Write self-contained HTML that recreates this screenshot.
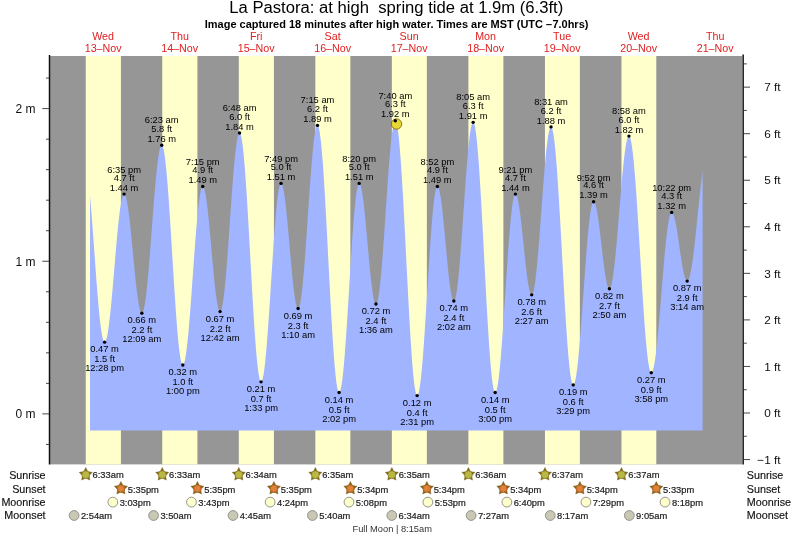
<!DOCTYPE html>
<html><head><meta charset="utf-8"><title>La Pastora tide chart</title>
<style>html,body{margin:0;padding:0;background:#fff}svg{display:block}text{font-family:"Liberation Sans",Arial,Helvetica,sans-serif}</style></head><body>
<svg width="793" height="537" viewBox="0 0 793 537">
<rect width="793" height="537" fill="#fff"/>
<text x="396.3" y="13.1" font-size="15.6" text-anchor="middle" fill="#000" xml:space="preserve" textLength="334" lengthAdjust="spacingAndGlyphs">La Pastora: at high  spring tide at 1.9m (6.3ft)</text>
<text x="396.6" y="27.6" font-size="10.2" font-weight="bold" text-anchor="middle" fill="#000" textLength="383.6" lengthAdjust="spacingAndGlyphs">Image captured 18 minutes after high water. Times are MST (UTC −7.0hrs)</text>
<rect x="50" y="56" width="692" height="408.4" fill="#969696"/>
<rect x="85.75" y="56" width="35.17" height="408.4" fill="#ffffcc"/>
<rect x="162.25" y="56" width="35.17" height="408.4" fill="#ffffcc"/>
<rect x="238.80" y="56" width="35.12" height="408.4" fill="#ffffcc"/>
<rect x="315.35" y="56" width="35.01" height="408.4" fill="#ffffcc"/>
<rect x="391.85" y="56" width="35.01" height="408.4" fill="#ffffcc"/>
<rect x="468.41" y="56" width="34.96" height="408.4" fill="#ffffcc"/>
<rect x="544.96" y="56" width="34.90" height="408.4" fill="#ffffcc"/>
<rect x="621.46" y="56" width="34.85" height="408.4" fill="#ffffcc"/>
<path d="M90.00 430.50 L90.00 195.96 L90.50 201.60 L91.00 207.53 L91.50 213.72 L92.00 220.12 L92.50 226.70 L93.00 233.43 L93.50 240.26 L94.00 247.16 L94.50 254.08 L95.00 260.98 L95.50 267.83 L96.00 274.58 L96.50 281.20 L97.00 287.64 L97.50 293.87 L98.00 299.86 L98.50 305.56 L99.00 310.95 L99.50 316.00 L100.00 320.66 L100.50 324.93 L101.00 328.77 L101.50 332.16 L102.00 335.08 L102.50 337.51 L103.00 339.44 L103.50 340.86 L104.00 341.77 L104.50 342.14 L105.00 342.01 L105.50 341.39 L106.00 340.30 L106.50 338.74 L107.00 336.72 L107.50 334.26 L108.00 331.37 L108.50 328.06 L109.00 324.37 L109.50 320.32 L110.00 315.92 L110.50 311.22 L111.00 306.23 L111.50 301.00 L112.00 295.55 L112.50 289.93 L113.00 284.17 L113.50 278.30 L114.00 272.36 L114.50 266.40 L115.00 260.45 L115.50 254.55 L116.00 248.73 L116.50 243.05 L117.00 237.52 L117.50 232.20 L118.00 227.10 L118.50 222.28 L119.00 217.75 L119.50 213.54 L120.00 209.69 L120.50 206.22 L121.00 203.15 L121.50 200.51 L122.00 198.30 L122.50 196.54 L123.00 195.25 L123.50 194.43 L124.00 194.09 L124.50 194.23 L125.00 194.83 L125.50 195.89 L126.00 197.41 L126.50 199.36 L127.00 201.74 L127.50 204.52 L128.00 207.69 L128.50 211.22 L129.00 215.08 L129.50 219.25 L130.00 223.68 L130.50 228.34 L131.00 233.21 L131.50 238.23 L132.00 243.38 L132.50 248.60 L133.00 253.87 L133.50 259.13 L134.00 264.35 L134.50 269.48 L135.00 274.50 L135.50 279.34 L136.00 283.99 L136.50 288.40 L137.00 292.53 L137.50 296.36 L138.00 299.86 L138.50 302.99 L139.00 305.74 L139.50 308.08 L140.00 309.99 L140.50 311.46 L141.00 312.48 L141.50 313.04 L142.00 313.13 L142.50 312.71 L143.00 311.76 L143.50 310.30 L144.00 308.34 L144.50 305.88 L145.00 302.94 L145.50 299.54 L146.00 295.70 L146.50 291.45 L147.00 286.80 L147.50 281.80 L148.00 276.47 L148.50 270.84 L149.00 264.95 L149.50 258.84 L150.00 252.54 L150.50 246.10 L151.00 239.55 L151.50 232.94 L152.00 226.31 L152.50 219.69 L153.00 213.13 L153.50 206.67 L154.00 200.36 L154.50 194.22 L155.00 188.30 L155.50 182.64 L156.00 177.26 L156.50 172.22 L157.00 167.52 L157.50 163.22 L158.00 159.32 L158.50 155.86 L159.00 152.86 L159.50 150.34 L160.00 148.31 L160.50 146.79 L161.00 145.77 L161.50 145.29 L162.00 145.33 L162.50 145.98 L163.00 147.24 L163.50 149.09 L164.00 151.53 L164.50 154.55 L165.00 158.12 L165.50 162.23 L166.00 166.86 L166.50 171.97 L167.00 177.55 L167.50 183.56 L168.00 189.96 L168.50 196.72 L169.00 203.81 L169.50 211.19 L170.00 218.81 L170.50 226.62 L171.00 234.60 L171.50 242.69 L172.00 250.85 L172.50 259.04 L173.00 267.20 L173.50 275.29 L174.00 283.28 L174.50 291.11 L175.00 298.73 L175.50 306.12 L176.00 313.22 L176.50 320.01 L177.00 326.43 L177.50 332.46 L178.00 338.05 L178.50 343.19 L179.00 347.84 L179.50 351.98 L180.00 355.58 L180.50 358.62 L181.00 361.09 L181.50 362.97 L182.00 364.26 L182.50 364.94 L183.00 365.01 L183.50 364.52 L184.00 363.48 L184.50 361.89 L185.00 359.77 L185.50 357.12 L186.00 353.97 L186.50 350.34 L187.00 346.24 L187.50 341.70 L188.00 336.75 L188.50 331.42 L189.00 325.75 L189.50 319.77 L190.00 313.51 L190.50 307.02 L191.00 300.33 L191.50 293.50 L192.00 286.55 L192.50 279.53 L193.00 272.49 L193.50 265.47 L194.00 258.52 L194.50 251.67 L195.00 244.97 L195.50 238.46 L196.00 232.19 L196.50 226.18 L197.00 220.49 L197.50 215.13 L198.00 210.16 L198.50 205.59 L199.00 201.45 L199.50 197.78 L200.00 194.60 L200.50 191.91 L201.00 189.75 L201.50 188.12 L202.00 187.04 L202.50 186.51 L203.00 186.53 L203.50 187.06 L204.00 188.10 L204.50 189.63 L205.00 191.65 L205.50 194.14 L206.00 197.08 L206.50 200.45 L207.00 204.21 L207.50 208.33 L208.00 212.79 L208.50 217.55 L209.00 222.56 L209.50 227.79 L210.00 233.19 L210.50 238.73 L211.00 244.34 L211.50 250.00 L212.00 255.64 L212.50 261.24 L213.00 266.73 L213.50 272.08 L214.00 277.24 L214.50 282.17 L215.00 286.83 L215.50 291.18 L216.00 295.18 L216.50 298.81 L217.00 302.04 L217.50 304.83 L218.00 307.16 L218.50 309.02 L219.00 310.39 L219.50 311.25 L220.00 311.61 L220.50 311.44 L221.00 310.68 L221.50 309.35 L222.00 307.45 L222.50 305.00 L223.00 302.01 L223.50 298.49 L224.00 294.48 L224.50 290.00 L225.00 285.08 L225.50 279.75 L226.00 274.04 L226.50 268.00 L227.00 261.66 L227.50 255.06 L228.00 248.25 L228.50 241.27 L229.00 234.17 L229.50 226.98 L230.00 219.77 L230.50 212.58 L231.00 205.45 L231.50 198.42 L232.00 191.56 L232.50 184.89 L233.00 178.47 L233.50 172.34 L234.00 166.53 L234.50 161.08 L235.00 156.04 L235.50 151.43 L236.00 147.28 L236.50 143.62 L237.00 140.47 L237.50 137.85 L238.00 135.79 L238.50 134.29 L239.00 133.37 L239.50 133.03 L240.00 133.30 L240.50 134.23 L241.00 135.82 L241.50 138.06 L242.00 140.93 L242.50 144.43 L243.00 148.52 L243.50 153.20 L244.00 158.43 L244.50 164.19 L245.00 170.45 L245.50 177.17 L246.00 184.31 L246.50 191.85 L247.00 199.73 L247.50 207.93 L248.00 216.39 L248.50 225.06 L249.00 233.91 L249.50 242.88 L250.00 251.93 L250.50 261.02 L251.00 270.08 L251.50 279.07 L252.00 287.95 L252.50 296.67 L253.00 305.17 L253.50 313.43 L254.00 321.38 L254.50 328.99 L255.00 336.23 L255.50 343.04 L256.00 349.40 L256.50 355.26 L257.00 360.61 L257.50 365.40 L258.00 369.63 L258.50 373.25 L259.00 376.25 L259.50 378.63 L260.00 380.35 L260.50 381.43 L261.00 381.84 L261.50 381.61 L262.00 380.76 L262.50 379.31 L263.00 377.26 L263.50 374.63 L264.00 371.43 L264.50 367.68 L265.00 363.40 L265.50 358.62 L266.00 353.38 L266.50 347.70 L267.00 341.61 L267.50 335.16 L268.00 328.39 L268.50 321.33 L269.00 314.03 L269.50 306.54 L270.00 298.90 L270.50 291.16 L271.00 283.37 L271.50 275.58 L272.00 267.82 L272.50 260.16 L273.00 252.64 L273.50 245.30 L274.00 238.19 L274.50 231.36 L275.00 224.85 L275.50 218.69 L276.00 212.92 L276.50 207.59 L277.00 202.72 L277.50 198.35 L278.00 194.49 L278.50 191.18 L279.00 188.44 L279.50 186.28 L280.00 184.71 L280.50 183.75 L281.00 183.40 L281.50 183.63 L282.00 184.38 L282.50 185.66 L283.00 187.45 L283.50 189.74 L284.00 192.50 L284.50 195.72 L285.00 199.36 L285.50 203.40 L286.00 207.80 L286.50 212.52 L287.00 217.53 L287.50 222.78 L288.00 228.22 L288.50 233.82 L289.00 239.51 L289.50 245.27 L290.00 251.03 L290.50 256.74 L291.00 262.37 L291.50 267.86 L292.00 273.16 L292.50 278.23 L293.00 283.03 L293.50 287.51 L294.00 291.64 L294.50 295.38 L295.00 298.71 L295.50 301.59 L296.00 303.99 L296.50 305.91 L297.00 307.32 L297.50 308.20 L298.00 308.56 L298.50 308.37 L299.00 307.58 L299.50 306.19 L300.00 304.22 L300.50 301.67 L301.00 298.57 L301.50 294.94 L302.00 290.79 L302.50 286.16 L303.00 281.07 L303.50 275.57 L304.00 269.68 L304.50 263.45 L305.00 256.91 L305.50 250.11 L306.00 243.09 L306.50 235.90 L307.00 228.58 L307.50 221.20 L308.00 213.78 L308.50 206.38 L309.00 199.05 L309.50 191.85 L310.00 184.80 L310.50 177.97 L311.00 171.39 L311.50 165.11 L312.00 159.17 L312.50 153.61 L313.00 148.47 L313.50 143.78 L314.00 139.56 L314.50 135.86 L315.00 132.68 L315.50 130.06 L316.00 128.01 L316.50 126.54 L317.00 125.67 L317.50 125.39 L318.00 125.77 L318.50 126.86 L319.00 128.64 L319.50 131.11 L320.00 134.25 L320.50 138.05 L321.00 142.49 L321.50 147.54 L322.00 153.18 L322.50 159.38 L323.00 166.11 L323.50 173.32 L324.00 180.99 L324.50 189.06 L325.00 197.51 L325.50 206.28 L326.00 215.33 L326.50 224.61 L327.00 234.07 L327.50 243.66 L328.00 253.33 L328.50 263.03 L329.00 272.71 L329.50 282.32 L330.00 291.80 L330.50 301.11 L331.00 310.20 L331.50 319.02 L332.00 327.52 L332.50 335.66 L333.00 343.39 L333.50 350.68 L334.00 357.49 L334.50 363.77 L335.00 369.51 L335.50 374.66 L336.00 379.20 L336.50 383.10 L337.00 386.35 L337.50 388.93 L338.00 390.82 L338.50 392.02 L339.00 392.51 L339.50 392.33 L340.00 391.50 L340.50 390.04 L341.00 387.95 L341.50 385.25 L342.00 381.96 L342.50 378.09 L343.00 373.67 L343.50 368.73 L344.00 363.30 L344.50 357.40 L345.00 351.08 L345.50 344.37 L346.00 337.32 L346.50 329.96 L347.00 322.35 L347.50 314.53 L348.00 306.54 L348.50 298.45 L349.00 290.28 L349.50 282.11 L350.00 273.97 L350.50 265.91 L351.00 257.99 L351.50 250.26 L352.00 242.75 L352.50 235.52 L353.00 228.61 L353.50 222.07 L354.00 215.92 L354.50 210.22 L355.00 205.00 L355.50 200.28 L356.00 196.09 L356.50 192.47 L357.00 189.43 L357.50 187.00 L358.00 185.18 L358.50 183.99 L359.00 183.44 L359.50 183.50 L360.00 184.10 L360.50 185.22 L361.00 186.85 L361.50 188.98 L362.00 191.59 L362.50 194.65 L363.00 198.14 L363.50 202.03 L364.00 206.29 L364.50 210.87 L365.00 215.74 L365.50 220.85 L366.00 226.17 L366.50 231.63 L367.00 237.21 L367.50 242.83 L368.00 248.47 L368.50 254.07 L369.00 259.57 L369.50 264.94 L370.00 270.12 L370.50 275.06 L371.00 279.74 L371.50 284.10 L372.00 288.10 L372.50 291.72 L373.00 294.92 L373.50 297.66 L374.00 299.94 L374.50 301.72 L375.00 303.00 L375.50 303.76 L376.00 303.99 L376.50 303.65 L377.00 302.71 L377.50 301.18 L378.00 299.06 L378.50 296.36 L379.00 293.12 L379.50 289.34 L380.00 285.05 L380.50 280.29 L381.00 275.08 L381.50 269.45 L382.00 263.45 L382.50 257.11 L383.00 250.47 L383.50 243.59 L384.00 236.50 L384.50 229.25 L385.00 221.89 L385.50 214.47 L386.00 207.03 L386.50 199.63 L387.00 192.31 L387.50 185.13 L388.00 178.12 L388.50 171.34 L389.00 164.84 L389.50 158.64 L390.00 152.80 L390.50 147.36 L391.00 142.34 L391.50 137.78 L392.00 133.72 L392.50 130.17 L393.00 127.17 L393.50 124.73 L394.00 122.87 L394.50 121.60 L395.00 120.93 L395.50 120.86 L396.00 121.49 L396.50 122.83 L397.00 124.87 L397.50 127.59 L398.00 130.99 L398.50 135.05 L399.00 139.75 L399.50 145.06 L400.00 150.95 L400.50 157.40 L401.00 164.37 L401.50 171.83 L402.00 179.73 L402.50 188.04 L403.00 196.72 L403.50 205.71 L404.00 214.97 L404.50 224.45 L405.00 234.11 L405.50 243.90 L406.00 253.76 L406.50 263.64 L407.00 273.49 L407.50 283.27 L408.00 292.91 L408.50 302.37 L409.00 311.61 L409.50 320.57 L410.00 329.21 L410.50 337.48 L411.00 345.34 L411.50 352.75 L412.00 359.67 L412.50 366.06 L413.00 371.90 L413.50 377.15 L414.00 381.78 L414.50 385.78 L415.00 389.11 L415.50 391.77 L416.00 393.73 L416.50 395.00 L417.00 395.55 L417.50 395.42 L418.00 394.66 L418.50 393.27 L419.00 391.26 L419.50 388.66 L420.00 385.46 L420.50 381.70 L421.00 377.39 L421.50 372.56 L422.00 367.24 L422.50 361.46 L423.00 355.25 L423.50 348.66 L424.00 341.73 L424.50 334.49 L425.00 326.98 L425.50 319.26 L426.00 311.37 L426.50 303.36 L427.00 295.27 L427.50 287.16 L428.00 279.07 L428.50 271.05 L429.00 263.15 L429.50 255.42 L430.00 247.91 L430.50 240.65 L431.00 233.70 L431.50 227.09 L432.00 220.87 L432.50 215.07 L433.00 209.72 L433.50 204.87 L434.00 200.53 L434.50 196.74 L435.00 193.52 L435.50 190.88 L436.00 188.85 L436.50 187.43 L437.00 186.64 L437.50 186.47 L438.00 186.85 L438.50 187.75 L439.00 189.15 L439.50 191.06 L440.00 193.44 L440.50 196.28 L441.00 199.55 L441.50 203.22 L442.00 207.26 L442.50 211.63 L443.00 216.29 L443.50 221.20 L444.00 226.32 L444.50 231.59 L445.00 236.97 L445.50 242.42 L446.00 247.88 L446.50 253.29 L447.00 258.62 L447.50 263.82 L448.00 268.83 L448.50 273.62 L449.00 278.13 L449.50 282.33 L450.00 286.17 L450.50 289.63 L451.00 292.68 L451.50 295.28 L452.00 297.41 L452.50 299.05 L453.00 300.19 L453.50 300.81 L454.00 300.91 L454.50 300.44 L455.00 299.38 L455.50 297.74 L456.00 295.52 L456.50 292.75 L457.00 289.45 L457.50 285.62 L458.00 281.31 L458.50 276.53 L459.00 271.32 L459.50 265.72 L460.00 259.76 L460.50 253.48 L461.00 246.92 L461.50 240.13 L462.00 233.15 L462.50 226.03 L463.00 218.81 L463.50 211.54 L464.00 204.28 L464.50 197.06 L465.00 189.94 L465.50 182.96 L466.00 176.18 L466.50 169.63 L467.00 163.36 L467.50 157.40 L468.00 151.81 L468.50 146.62 L469.00 141.85 L469.50 137.55 L470.00 133.74 L470.50 130.44 L471.00 127.69 L471.50 125.49 L472.00 123.86 L472.50 122.82 L473.00 122.36 L473.50 122.52 L474.00 123.36 L474.50 124.88 L475.00 127.08 L475.50 129.93 L476.00 133.44 L476.50 137.57 L477.00 142.31 L477.50 147.63 L478.00 153.51 L478.50 159.92 L479.00 166.83 L479.50 174.19 L480.00 181.97 L480.50 190.14 L481.00 198.65 L481.50 207.46 L482.00 216.52 L482.50 225.79 L483.00 235.22 L483.50 244.77 L484.00 254.37 L484.50 263.99 L485.00 273.58 L485.50 283.09 L486.00 292.47 L486.50 301.67 L487.00 310.64 L487.50 319.35 L488.00 327.74 L488.50 335.77 L489.00 343.41 L489.50 350.61 L490.00 357.34 L490.50 363.56 L491.00 369.24 L491.50 374.35 L492.00 378.87 L492.50 382.78 L493.00 386.05 L493.50 388.66 L494.00 390.62 L494.50 391.89 L495.00 392.48 L495.50 392.41 L496.00 391.73 L496.50 390.46 L497.00 388.61 L497.50 386.18 L498.00 383.19 L498.50 379.66 L499.00 375.61 L499.50 371.07 L500.00 366.06 L500.50 360.61 L501.00 354.75 L501.50 348.53 L502.00 341.97 L502.50 335.12 L503.00 328.02 L503.50 320.71 L504.00 313.23 L504.50 305.64 L505.00 297.97 L505.50 290.27 L506.00 282.59 L506.50 274.98 L507.00 267.47 L507.50 260.12 L508.00 252.97 L508.50 246.06 L509.00 239.44 L509.50 233.14 L510.00 227.21 L510.50 221.67 L511.00 216.56 L511.50 211.92 L512.00 207.76 L512.50 204.12 L513.00 201.02 L513.50 198.47 L514.00 196.49 L514.50 195.10 L515.00 194.30 L515.50 194.09 L516.00 194.40 L516.50 195.17 L517.00 196.40 L517.50 198.09 L518.00 200.20 L518.50 202.73 L519.00 205.65 L519.50 208.93 L520.00 212.54 L520.50 216.45 L521.00 220.62 L521.50 225.01 L522.00 229.58 L522.50 234.29 L523.00 239.10 L523.50 243.96 L524.00 248.82 L524.50 253.64 L525.00 258.38 L525.50 262.98 L526.00 267.42 L526.50 271.64 L527.00 275.60 L527.50 279.28 L528.00 282.63 L528.50 285.62 L529.00 288.23 L529.50 290.43 L530.00 292.20 L530.50 293.53 L531.00 294.40 L531.50 294.80 L532.00 294.72 L532.50 294.09 L533.00 292.91 L533.50 291.19 L534.00 288.94 L534.50 286.17 L535.00 282.91 L535.50 279.17 L536.00 274.99 L536.50 270.37 L537.00 265.37 L537.50 260.01 L538.00 254.32 L538.50 248.35 L539.00 242.13 L539.50 235.71 L540.00 229.12 L540.50 222.41 L541.00 215.62 L541.50 208.80 L542.00 202.00 L542.50 195.26 L543.00 188.61 L543.50 182.12 L544.00 175.81 L544.50 169.74 L545.00 163.94 L545.50 158.44 L546.00 153.29 L546.50 148.53 L547.00 144.17 L547.50 140.25 L548.00 136.80 L548.50 133.84 L549.00 131.38 L549.50 129.45 L550.00 128.06 L550.50 127.21 L551.00 126.92 L551.50 127.22 L552.00 128.16 L552.50 129.75 L553.00 131.96 L553.50 134.80 L554.00 138.24 L554.50 142.26 L555.00 146.86 L555.50 152.00 L556.00 157.67 L556.50 163.82 L557.00 170.43 L557.50 177.47 L558.00 184.91 L558.50 192.70 L559.00 200.80 L559.50 209.18 L560.00 217.80 L560.50 226.60 L561.00 235.55 L561.50 244.61 L562.00 253.72 L562.50 262.84 L563.00 271.92 L563.50 280.93 L564.00 289.81 L564.50 298.52 L565.00 307.02 L565.50 315.26 L566.00 323.21 L566.50 330.82 L567.00 338.05 L567.50 344.88 L568.00 351.25 L568.50 357.16 L569.00 362.55 L569.50 367.41 L570.00 371.72 L570.50 375.44 L571.00 378.57 L571.50 381.08 L572.00 382.97 L572.50 384.22 L573.00 384.83 L573.50 384.81 L574.00 384.24 L574.50 383.12 L575.00 381.47 L575.50 379.29 L576.00 376.61 L576.50 373.42 L577.00 369.76 L577.50 365.64 L578.00 361.09 L578.50 356.14 L579.00 350.81 L579.50 345.15 L580.00 339.17 L580.50 332.92 L581.00 326.43 L581.50 319.75 L582.00 312.90 L582.50 305.94 L583.00 298.91 L583.50 291.84 L584.00 284.79 L584.50 277.78 L585.00 270.86 L585.50 264.08 L586.00 257.47 L586.50 251.08 L587.00 244.94 L587.50 239.08 L588.00 233.55 L588.50 228.38 L589.00 223.59 L589.50 219.21 L590.00 215.28 L590.50 211.81 L591.00 208.83 L591.50 206.35 L592.00 204.39 L592.50 202.96 L593.00 202.07 L593.50 201.72 L594.00 201.87 L594.50 202.46 L595.00 203.46 L595.50 204.87 L596.00 206.68 L596.50 208.87 L597.00 211.41 L597.50 214.29 L598.00 217.47 L598.50 220.93 L599.00 224.62 L599.50 228.52 L600.00 232.58 L600.50 236.77 L601.00 241.04 L601.50 245.35 L602.00 249.65 L602.50 253.92 L603.00 258.10 L603.50 262.15 L604.00 266.04 L604.50 269.72 L605.00 273.16 L605.50 276.33 L606.00 279.19 L606.50 281.71 L607.00 283.88 L607.50 285.67 L608.00 287.06 L608.50 288.03 L609.00 288.59 L609.50 288.72 L610.00 288.37 L610.50 287.54 L611.00 286.22 L611.50 284.43 L612.00 282.17 L612.50 279.46 L613.00 276.32 L613.50 272.76 L614.00 268.82 L614.50 264.51 L615.00 259.86 L615.50 254.91 L616.00 249.69 L616.50 244.22 L617.00 238.55 L617.50 232.71 L618.00 226.74 L618.50 220.68 L619.00 214.56 L619.50 208.43 L620.00 202.33 L620.50 196.29 L621.00 190.35 L621.50 184.56 L622.00 178.94 L622.50 173.55 L623.00 168.40 L623.50 163.54 L624.00 158.99 L624.50 154.78 L625.00 150.95 L625.50 147.52 L626.00 144.50 L626.50 141.92 L627.00 139.80 L627.50 138.14 L628.00 136.97 L628.50 136.28 L629.00 136.08 L629.50 136.43 L630.00 137.36 L630.50 138.88 L631.00 140.97 L631.50 143.61 L632.00 146.81 L632.50 150.54 L633.00 154.78 L633.50 159.52 L634.00 164.73 L634.50 170.38 L635.00 176.45 L635.50 182.90 L636.00 189.71 L636.50 196.84 L637.00 204.25 L637.50 211.92 L638.00 219.79 L638.50 227.83 L639.00 236.01 L639.50 244.27 L640.00 252.59 L640.50 260.92 L641.00 269.21 L641.50 277.43 L642.00 285.53 L642.50 293.48 L643.00 301.24 L643.50 308.77 L644.00 316.02 L644.50 322.97 L645.00 329.58 L645.50 335.82 L646.00 341.65 L646.50 347.06 L647.00 352.00 L647.50 356.46 L648.00 360.41 L648.50 363.84 L649.00 366.73 L649.50 369.06 L650.00 370.82 L650.50 372.00 L651.00 372.60 L651.50 372.63 L652.00 372.17 L652.50 371.24 L653.00 369.84 L653.50 367.98 L654.00 365.67 L654.50 362.94 L655.00 359.78 L655.50 356.23 L656.00 352.30 L656.50 348.01 L657.00 343.40 L657.50 338.48 L658.00 333.29 L658.50 327.86 L659.00 322.23 L659.50 316.41 L660.00 310.46 L660.50 304.39 L661.00 298.26 L661.50 292.10 L662.00 285.93 L662.50 279.81 L663.00 273.76 L663.50 267.82 L664.00 262.03 L664.50 256.42 L665.00 251.03 L665.50 245.88 L666.00 241.00 L666.50 236.43 L667.00 232.20 L667.50 228.32 L668.00 224.82 L668.50 221.73 L669.00 219.05 L669.50 216.81 L670.00 215.02 L670.50 213.69 L671.00 212.82 L671.50 212.43 L672.00 212.48 L672.50 212.89 L673.00 213.65 L673.50 214.75 L674.00 216.18 L674.50 217.91 L675.00 219.95 L675.50 222.26 L676.00 224.82 L676.50 227.60 L677.00 230.58 L677.50 233.73 L678.00 237.01 L678.50 240.39 L679.00 243.83 L679.50 247.30 L680.00 250.77 L680.50 254.20 L681.00 257.55 L681.50 260.79 L682.00 263.89 L682.50 266.81 L683.00 269.53 L683.50 272.01 L684.00 274.23 L684.50 276.17 L685.00 277.81 L685.50 279.13 L686.00 280.12 L686.50 280.77 L687.00 281.07 L687.50 281.02 L688.00 280.59 L688.50 279.80 L689.00 278.65 L689.50 277.14 L690.00 275.29 L690.50 273.09 L691.00 270.58 L691.50 267.75 L692.00 264.63 L692.50 261.23 L693.00 257.58 L693.50 253.68 L694.00 249.57 L694.50 245.27 L695.00 240.81 L695.50 236.19 L696.00 231.47 L696.50 226.65 L697.00 221.77 L697.50 216.85 L698.00 211.93 L698.50 207.02 L699.00 202.17 L699.50 197.39 L700.00 192.71 L700.50 188.15 L701.00 183.75 L701.50 179.53 L702.00 175.52 L702.50 171.72 L702.60 170.99 L702.60 430.50 Z" fill="#a0b4ff"/>
<g stroke="#111" stroke-width="1.5"><line x1="49.5" y1="55" x2="49.5" y2="464.5"/><line x1="743.15" y1="54.5" x2="743.15" y2="464.5"/></g>
<g stroke="#333" stroke-width="0.9"><line x1="46" y1="444.43" x2="49" y2="444.43"/><line x1="42.3" y1="413.90" x2="49" y2="413.90"/><line x1="46" y1="383.37" x2="49" y2="383.37"/><line x1="46" y1="352.84" x2="49" y2="352.84"/><line x1="46" y1="322.31" x2="49" y2="322.31"/><line x1="46" y1="291.78" x2="49" y2="291.78"/><line x1="42.3" y1="261.25" x2="49" y2="261.25"/><line x1="46" y1="230.72" x2="49" y2="230.72"/><line x1="46" y1="200.19" x2="49" y2="200.19"/><line x1="46" y1="169.66" x2="49" y2="169.66"/><line x1="46" y1="139.13" x2="49" y2="139.13"/><line x1="42.3" y1="108.60" x2="49" y2="108.60"/><line x1="46" y1="78.07" x2="49" y2="78.07"/><line x1="743.5" y1="459.55" x2="750" y2="459.55"/><line x1="743.5" y1="436.27" x2="746.8" y2="436.27"/><line x1="743.5" y1="413.00" x2="750" y2="413.00"/><line x1="743.5" y1="389.73" x2="746.8" y2="389.73"/><line x1="743.5" y1="366.45" x2="750" y2="366.45"/><line x1="743.5" y1="343.18" x2="746.8" y2="343.18"/><line x1="743.5" y1="319.90" x2="750" y2="319.90"/><line x1="743.5" y1="296.62" x2="746.8" y2="296.62"/><line x1="743.5" y1="273.35" x2="750" y2="273.35"/><line x1="743.5" y1="250.08" x2="746.8" y2="250.08"/><line x1="743.5" y1="226.80" x2="750" y2="226.80"/><line x1="743.5" y1="203.53" x2="746.8" y2="203.53"/><line x1="743.5" y1="180.25" x2="750" y2="180.25"/><line x1="743.5" y1="156.98" x2="746.8" y2="156.98"/><line x1="743.5" y1="133.70" x2="750" y2="133.70"/><line x1="743.5" y1="110.43" x2="746.8" y2="110.43"/><line x1="743.5" y1="87.15" x2="750" y2="87.15"/><line x1="743.5" y1="63.88" x2="746.8" y2="63.88"/></g>
<text x="35.6" y="418.20" font-size="12" text-anchor="end" fill="#111">0 m</text>
<text x="35.6" y="265.55" font-size="12" text-anchor="end" fill="#111">1 m</text>
<text x="35.6" y="112.90" font-size="12" text-anchor="end" fill="#111">2 m</text>
<text x="780.6" y="463.75" font-size="11.8" text-anchor="end" fill="#111">−1 ft</text>
<text x="780.6" y="417.20" font-size="11.8" text-anchor="end" fill="#111">0 ft</text>
<text x="780.6" y="370.65" font-size="11.8" text-anchor="end" fill="#111">1 ft</text>
<text x="780.6" y="324.10" font-size="11.8" text-anchor="end" fill="#111">2 ft</text>
<text x="780.6" y="277.55" font-size="11.8" text-anchor="end" fill="#111">3 ft</text>
<text x="780.6" y="231.00" font-size="11.8" text-anchor="end" fill="#111">4 ft</text>
<text x="780.6" y="184.45" font-size="11.8" text-anchor="end" fill="#111">5 ft</text>
<text x="780.6" y="137.90" font-size="11.8" text-anchor="end" fill="#111">6 ft</text>
<text x="780.6" y="91.35" font-size="11.8" text-anchor="end" fill="#111">7 ft</text>
<text x="103.12" y="39.7" font-size="10.7" text-anchor="middle" fill="#e02020">Wed</text>
<text x="103.12" y="51.6" font-size="10.7" text-anchor="middle" fill="#e02020">13–Nov</text>
<text x="179.62" y="39.7" font-size="10.7" text-anchor="middle" fill="#e02020">Thu</text>
<text x="179.62" y="51.6" font-size="10.7" text-anchor="middle" fill="#e02020">14–Nov</text>
<text x="256.12" y="39.7" font-size="10.7" text-anchor="middle" fill="#e02020">Fri</text>
<text x="256.12" y="51.6" font-size="10.7" text-anchor="middle" fill="#e02020">15–Nov</text>
<text x="332.62" y="39.7" font-size="10.7" text-anchor="middle" fill="#e02020">Sat</text>
<text x="332.62" y="51.6" font-size="10.7" text-anchor="middle" fill="#e02020">16–Nov</text>
<text x="409.12" y="39.7" font-size="10.7" text-anchor="middle" fill="#e02020">Sun</text>
<text x="409.12" y="51.6" font-size="10.7" text-anchor="middle" fill="#e02020">17–Nov</text>
<text x="485.62" y="39.7" font-size="10.7" text-anchor="middle" fill="#e02020">Mon</text>
<text x="485.62" y="51.6" font-size="10.7" text-anchor="middle" fill="#e02020">18–Nov</text>
<text x="562.12" y="39.7" font-size="10.7" text-anchor="middle" fill="#e02020">Tue</text>
<text x="562.12" y="51.6" font-size="10.7" text-anchor="middle" fill="#e02020">19–Nov</text>
<text x="638.62" y="39.7" font-size="10.7" text-anchor="middle" fill="#e02020">Wed</text>
<text x="638.62" y="51.6" font-size="10.7" text-anchor="middle" fill="#e02020">20–Nov</text>
<text x="715.12" y="39.7" font-size="10.7" text-anchor="middle" fill="#e02020">Thu</text>
<text x="715.12" y="51.6" font-size="10.7" text-anchor="middle" fill="#e02020">21–Nov</text>
<circle cx="396.5" cy="124" r="5.2" fill="#e6d832" stroke="#7a5a14" stroke-width="0.8"/>
<circle cx="104.61" cy="342.15" r="1.7" fill="#000"/>
<text x="104.61" y="352.15" font-size="9.35" text-anchor="middle" fill="#000">0.47 m</text>
<text x="104.61" y="362.15" font-size="9.35" text-anchor="middle" fill="#000">1.5 ft</text>
<text x="104.61" y="371.45" font-size="9.35" text-anchor="middle" fill="#000">12:28 pm</text>
<circle cx="124.10" cy="194.08" r="1.7" fill="#000"/>
<text x="124.10" y="172.88" font-size="9.35" text-anchor="middle" fill="#000">6:35 pm</text>
<text x="124.10" y="180.68" font-size="9.35" text-anchor="middle" fill="#000">4.7 ft</text>
<text x="124.10" y="190.58" font-size="9.35" text-anchor="middle" fill="#000">1.44 m</text>
<circle cx="141.85" cy="313.15" r="1.7" fill="#000"/>
<text x="141.85" y="323.15" font-size="9.35" text-anchor="middle" fill="#000">0.66 m</text>
<text x="141.85" y="333.15" font-size="9.35" text-anchor="middle" fill="#000">2.2 ft</text>
<text x="141.85" y="342.45" font-size="9.35" text-anchor="middle" fill="#000">12:09 am</text>
<circle cx="161.72" cy="145.24" r="1.7" fill="#000"/>
<text x="161.72" y="123.04" font-size="9.35" text-anchor="middle" fill="#000">6:23 am</text>
<text x="161.72" y="131.84" font-size="9.35" text-anchor="middle" fill="#000">5.8 ft</text>
<text x="161.72" y="141.84" font-size="9.35" text-anchor="middle" fill="#000">1.76 m</text>
<circle cx="182.81" cy="365.05" r="1.7" fill="#000"/>
<text x="182.81" y="375.05" font-size="9.35" text-anchor="middle" fill="#000">0.32 m</text>
<text x="182.81" y="385.05" font-size="9.35" text-anchor="middle" fill="#000">1.0 ft</text>
<text x="182.81" y="394.35" font-size="9.35" text-anchor="middle" fill="#000">1:00 pm</text>
<circle cx="202.73" cy="186.45" r="1.7" fill="#000"/>
<text x="202.73" y="165.25" font-size="9.35" text-anchor="middle" fill="#000">7:15 pm</text>
<text x="202.73" y="173.05" font-size="9.35" text-anchor="middle" fill="#000">4.9 ft</text>
<text x="202.73" y="182.95" font-size="9.35" text-anchor="middle" fill="#000">1.49 m</text>
<circle cx="220.10" cy="311.62" r="1.7" fill="#000"/>
<text x="220.10" y="321.62" font-size="9.35" text-anchor="middle" fill="#000">0.67 m</text>
<text x="220.10" y="331.62" font-size="9.35" text-anchor="middle" fill="#000">2.2 ft</text>
<text x="220.10" y="340.92" font-size="9.35" text-anchor="middle" fill="#000">12:42 am</text>
<circle cx="239.54" cy="133.02" r="1.7" fill="#000"/>
<text x="239.54" y="110.82" font-size="9.35" text-anchor="middle" fill="#000">6:48 am</text>
<text x="239.54" y="119.62" font-size="9.35" text-anchor="middle" fill="#000">6.0 ft</text>
<text x="239.54" y="129.62" font-size="9.35" text-anchor="middle" fill="#000">1.84 m</text>
<circle cx="261.06" cy="381.84" r="1.7" fill="#000"/>
<text x="261.06" y="391.84" font-size="9.35" text-anchor="middle" fill="#000">0.21 m</text>
<text x="261.06" y="401.84" font-size="9.35" text-anchor="middle" fill="#000">0.7 ft</text>
<text x="261.06" y="411.14" font-size="9.35" text-anchor="middle" fill="#000">1:33 pm</text>
<circle cx="281.04" cy="183.40" r="1.7" fill="#000"/>
<text x="281.04" y="162.20" font-size="9.35" text-anchor="middle" fill="#000">7:49 pm</text>
<text x="281.04" y="170.00" font-size="9.35" text-anchor="middle" fill="#000">5.0 ft</text>
<text x="281.04" y="179.90" font-size="9.35" text-anchor="middle" fill="#000">1.51 m</text>
<circle cx="298.09" cy="308.57" r="1.7" fill="#000"/>
<text x="298.09" y="318.57" font-size="9.35" text-anchor="middle" fill="#000">0.69 m</text>
<text x="298.09" y="328.57" font-size="9.35" text-anchor="middle" fill="#000">2.3 ft</text>
<text x="298.09" y="337.87" font-size="9.35" text-anchor="middle" fill="#000">1:10 am</text>
<circle cx="317.48" cy="125.39" r="1.7" fill="#000"/>
<text x="317.48" y="103.19" font-size="9.35" text-anchor="middle" fill="#000">7:15 am</text>
<text x="317.48" y="111.99" font-size="9.35" text-anchor="middle" fill="#000">6.2 ft</text>
<text x="317.48" y="121.99" font-size="9.35" text-anchor="middle" fill="#000">1.89 m</text>
<circle cx="339.10" cy="392.53" r="1.7" fill="#000"/>
<text x="339.10" y="402.53" font-size="9.35" text-anchor="middle" fill="#000">0.14 m</text>
<text x="339.10" y="412.53" font-size="9.35" text-anchor="middle" fill="#000">0.5 ft</text>
<text x="339.10" y="421.83" font-size="9.35" text-anchor="middle" fill="#000">2:02 pm</text>
<circle cx="359.18" cy="183.40" r="1.7" fill="#000"/>
<text x="359.18" y="162.20" font-size="9.35" text-anchor="middle" fill="#000">8:20 pm</text>
<text x="359.18" y="170.00" font-size="9.35" text-anchor="middle" fill="#000">5.0 ft</text>
<text x="359.18" y="179.90" font-size="9.35" text-anchor="middle" fill="#000">1.51 m</text>
<circle cx="375.97" cy="303.99" r="1.7" fill="#000"/>
<text x="375.97" y="313.99" font-size="9.35" text-anchor="middle" fill="#000">0.72 m</text>
<text x="375.97" y="323.99" font-size="9.35" text-anchor="middle" fill="#000">2.4 ft</text>
<text x="375.97" y="333.29" font-size="9.35" text-anchor="middle" fill="#000">1:36 am</text>
<circle cx="395.31" cy="120.81" r="1.7" fill="#000"/>
<text x="395.31" y="98.61" font-size="9.35" text-anchor="middle" fill="#000">7:40 am</text>
<text x="395.31" y="107.41" font-size="9.35" text-anchor="middle" fill="#000">6.3 ft</text>
<text x="395.31" y="117.41" font-size="9.35" text-anchor="middle" fill="#000">1.92 m</text>
<circle cx="417.14" cy="395.58" r="1.7" fill="#000"/>
<text x="417.14" y="405.58" font-size="9.35" text-anchor="middle" fill="#000">0.12 m</text>
<text x="417.14" y="415.58" font-size="9.35" text-anchor="middle" fill="#000">0.4 ft</text>
<text x="417.14" y="424.88" font-size="9.35" text-anchor="middle" fill="#000">2:31 pm</text>
<circle cx="437.38" cy="186.45" r="1.7" fill="#000"/>
<text x="437.38" y="165.25" font-size="9.35" text-anchor="middle" fill="#000">8:52 pm</text>
<text x="437.38" y="173.05" font-size="9.35" text-anchor="middle" fill="#000">4.9 ft</text>
<text x="437.38" y="182.95" font-size="9.35" text-anchor="middle" fill="#000">1.49 m</text>
<circle cx="453.85" cy="300.94" r="1.7" fill="#000"/>
<text x="453.85" y="310.94" font-size="9.35" text-anchor="middle" fill="#000">0.74 m</text>
<text x="453.85" y="320.94" font-size="9.35" text-anchor="middle" fill="#000">2.4 ft</text>
<text x="453.85" y="330.24" font-size="9.35" text-anchor="middle" fill="#000">2:02 am</text>
<circle cx="473.14" cy="122.34" r="1.7" fill="#000"/>
<text x="473.14" y="100.14" font-size="9.35" text-anchor="middle" fill="#000">8:05 am</text>
<text x="473.14" y="108.94" font-size="9.35" text-anchor="middle" fill="#000">6.3 ft</text>
<text x="473.14" y="118.94" font-size="9.35" text-anchor="middle" fill="#000">1.91 m</text>
<circle cx="495.18" cy="392.53" r="1.7" fill="#000"/>
<text x="495.18" y="402.53" font-size="9.35" text-anchor="middle" fill="#000">0.14 m</text>
<text x="495.18" y="412.53" font-size="9.35" text-anchor="middle" fill="#000">0.5 ft</text>
<text x="495.18" y="421.83" font-size="9.35" text-anchor="middle" fill="#000">3:00 pm</text>
<circle cx="515.42" cy="194.08" r="1.7" fill="#000"/>
<text x="515.42" y="172.88" font-size="9.35" text-anchor="middle" fill="#000">9:21 pm</text>
<text x="515.42" y="180.68" font-size="9.35" text-anchor="middle" fill="#000">4.7 ft</text>
<text x="515.42" y="190.58" font-size="9.35" text-anchor="middle" fill="#000">1.44 m</text>
<circle cx="531.68" cy="294.83" r="1.7" fill="#000"/>
<text x="531.68" y="304.83" font-size="9.35" text-anchor="middle" fill="#000">0.78 m</text>
<text x="531.68" y="314.83" font-size="9.35" text-anchor="middle" fill="#000">2.6 ft</text>
<text x="531.68" y="324.13" font-size="9.35" text-anchor="middle" fill="#000">2:27 am</text>
<circle cx="551.02" cy="126.92" r="1.7" fill="#000"/>
<text x="551.02" y="104.72" font-size="9.35" text-anchor="middle" fill="#000">8:31 am</text>
<text x="551.02" y="113.52" font-size="9.35" text-anchor="middle" fill="#000">6.2 ft</text>
<text x="551.02" y="123.52" font-size="9.35" text-anchor="middle" fill="#000">1.88 m</text>
<circle cx="573.22" cy="384.90" r="1.7" fill="#000"/>
<text x="573.22" y="394.90" font-size="9.35" text-anchor="middle" fill="#000">0.19 m</text>
<text x="573.22" y="404.90" font-size="9.35" text-anchor="middle" fill="#000">0.6 ft</text>
<text x="573.22" y="414.20" font-size="9.35" text-anchor="middle" fill="#000">3:29 pm</text>
<circle cx="593.57" cy="201.72" r="1.7" fill="#000"/>
<text x="593.57" y="180.52" font-size="9.35" text-anchor="middle" fill="#000">9:52 pm</text>
<text x="593.57" y="188.32" font-size="9.35" text-anchor="middle" fill="#000">4.6 ft</text>
<text x="593.57" y="198.22" font-size="9.35" text-anchor="middle" fill="#000">1.39 m</text>
<circle cx="609.40" cy="288.73" r="1.7" fill="#000"/>
<text x="609.40" y="298.73" font-size="9.35" text-anchor="middle" fill="#000">0.82 m</text>
<text x="609.40" y="308.73" font-size="9.35" text-anchor="middle" fill="#000">2.7 ft</text>
<text x="609.40" y="318.03" font-size="9.35" text-anchor="middle" fill="#000">2:50 am</text>
<circle cx="628.95" cy="136.08" r="1.7" fill="#000"/>
<text x="628.95" y="113.88" font-size="9.35" text-anchor="middle" fill="#000">8:58 am</text>
<text x="628.95" y="122.68" font-size="9.35" text-anchor="middle" fill="#000">6.0 ft</text>
<text x="628.95" y="132.68" font-size="9.35" text-anchor="middle" fill="#000">1.82 m</text>
<circle cx="651.26" cy="372.68" r="1.7" fill="#000"/>
<text x="651.26" y="382.68" font-size="9.35" text-anchor="middle" fill="#000">0.27 m</text>
<text x="651.26" y="392.68" font-size="9.35" text-anchor="middle" fill="#000">0.9 ft</text>
<text x="651.26" y="401.98" font-size="9.35" text-anchor="middle" fill="#000">3:58 pm</text>
<circle cx="671.66" cy="212.40" r="1.7" fill="#000"/>
<text x="671.66" y="191.20" font-size="9.35" text-anchor="middle" fill="#000">10:22 pm</text>
<text x="671.66" y="199.00" font-size="9.35" text-anchor="middle" fill="#000">4.3 ft</text>
<text x="671.66" y="208.90" font-size="9.35" text-anchor="middle" fill="#000">1.32 m</text>
<circle cx="687.18" cy="281.09" r="1.7" fill="#000"/>
<text x="687.18" y="291.09" font-size="9.35" text-anchor="middle" fill="#000">0.87 m</text>
<text x="687.18" y="301.09" font-size="9.35" text-anchor="middle" fill="#000">2.9 ft</text>
<text x="687.18" y="310.39" font-size="9.35" text-anchor="middle" fill="#000">3:14 am</text>
<text x="45.6" y="478.80" font-size="10.75" text-anchor="end" fill="#111" stroke="#111" stroke-width="0.15">Sunrise</text>
<text x="746.8" y="478.80" font-size="10.75" text-anchor="start" fill="#111" stroke="#111" stroke-width="0.15">Sunrise</text>
<text x="45.6" y="492.50" font-size="10.75" text-anchor="end" fill="#111" stroke="#111" stroke-width="0.15">Sunset</text>
<text x="746.8" y="492.50" font-size="10.75" text-anchor="start" fill="#111" stroke="#111" stroke-width="0.15">Sunset</text>
<text x="45.6" y="505.60" font-size="10.75" text-anchor="end" fill="#111" stroke="#111" stroke-width="0.15">Moonrise</text>
<text x="746.8" y="505.60" font-size="10.75" text-anchor="start" fill="#111" stroke="#111" stroke-width="0.15">Moonrise</text>
<text x="45.6" y="519.25" font-size="10.75" text-anchor="end" fill="#111" stroke="#111" stroke-width="0.15">Moonset</text>
<text x="746.8" y="519.25" font-size="10.75" text-anchor="start" fill="#111" stroke="#111" stroke-width="0.15">Moonset</text>
<polygon points="85.75,467.60 87.81,471.67 92.31,472.37 89.08,475.58 89.80,480.08 85.75,478.00 81.69,480.08 82.42,475.58 79.19,472.37 83.69,471.67" fill="#80661a" stroke="#80661a" stroke-width="0.5" stroke-linejoin="miter"/><circle cx="85.75" cy="474.70" r="3.9" fill="#b8b844" stroke="#80661a" stroke-width="0.55"/>
<text x="92.55" y="477.60" font-size="9.35" fill="#222" stroke="#222" stroke-width="0.2">6:33am</text>
<polygon points="120.92,481.50 122.97,485.57 127.48,486.27 124.25,489.48 124.97,493.98 120.92,491.90 116.86,493.98 117.59,489.48 114.35,486.27 118.86,485.57" fill="#80661a" stroke="#80661a" stroke-width="0.5" stroke-linejoin="miter"/><circle cx="120.92" cy="488.60" r="3.9" fill="#dc8438" stroke="#80661a" stroke-width="0.55"/><circle cx="120.92" cy="488.60" r="3.3" fill="none" stroke="#e83028" stroke-width="0.7" stroke-dasharray="1.8 1.2" opacity="0.8"/>
<text x="127.72" y="492.70" font-size="9.35" fill="#222" stroke="#222" stroke-width="0.2">5:35pm</text>
<polygon points="162.25,467.60 164.31,471.67 168.81,472.37 165.58,475.58 166.30,480.08 162.25,478.00 158.19,480.08 158.92,475.58 155.69,472.37 160.19,471.67" fill="#80661a" stroke="#80661a" stroke-width="0.5" stroke-linejoin="miter"/><circle cx="162.25" cy="474.70" r="3.9" fill="#b8b844" stroke="#80661a" stroke-width="0.55"/>
<text x="169.05" y="477.60" font-size="9.35" fill="#222" stroke="#222" stroke-width="0.2">6:33am</text>
<polygon points="197.42,481.50 199.47,485.57 203.98,486.27 200.75,489.48 201.47,493.98 197.42,491.90 193.36,493.98 194.09,489.48 190.85,486.27 195.36,485.57" fill="#80661a" stroke="#80661a" stroke-width="0.5" stroke-linejoin="miter"/><circle cx="197.42" cy="488.60" r="3.9" fill="#dc8438" stroke="#80661a" stroke-width="0.55"/><circle cx="197.42" cy="488.60" r="3.3" fill="none" stroke="#e83028" stroke-width="0.7" stroke-dasharray="1.8 1.2" opacity="0.8"/>
<text x="204.22" y="492.70" font-size="9.35" fill="#222" stroke="#222" stroke-width="0.2">5:35pm</text>
<polygon points="238.80,467.60 240.86,471.67 245.36,472.37 242.13,475.58 242.86,480.08 238.80,478.00 234.75,480.08 235.47,475.58 232.24,472.37 236.74,471.67" fill="#80661a" stroke="#80661a" stroke-width="0.5" stroke-linejoin="miter"/><circle cx="238.80" cy="474.70" r="3.9" fill="#b8b844" stroke="#80661a" stroke-width="0.55"/>
<text x="245.60" y="477.60" font-size="9.35" fill="#222" stroke="#222" stroke-width="0.2">6:34am</text>
<polygon points="273.92,481.50 275.97,485.57 280.48,486.27 277.25,489.48 277.97,493.98 273.92,491.90 269.86,493.98 270.59,489.48 267.35,486.27 271.86,485.57" fill="#80661a" stroke="#80661a" stroke-width="0.5" stroke-linejoin="miter"/><circle cx="273.92" cy="488.60" r="3.9" fill="#dc8438" stroke="#80661a" stroke-width="0.55"/><circle cx="273.92" cy="488.60" r="3.3" fill="none" stroke="#e83028" stroke-width="0.7" stroke-dasharray="1.8 1.2" opacity="0.8"/>
<text x="280.72" y="492.70" font-size="9.35" fill="#222" stroke="#222" stroke-width="0.2">5:35pm</text>
<polygon points="315.35,467.60 317.41,471.67 321.92,472.37 318.68,475.58 319.41,480.08 315.35,478.00 311.30,480.08 312.03,475.58 308.79,472.37 313.30,471.67" fill="#80661a" stroke="#80661a" stroke-width="0.5" stroke-linejoin="miter"/><circle cx="315.35" cy="474.70" r="3.9" fill="#b8b844" stroke="#80661a" stroke-width="0.55"/>
<text x="322.15" y="477.60" font-size="9.35" fill="#222" stroke="#222" stroke-width="0.2">6:35am</text>
<polygon points="350.36,481.50 352.42,485.57 356.93,486.27 353.69,489.48 354.42,493.98 350.36,491.90 346.31,493.98 347.04,489.48 343.80,486.27 348.31,485.57" fill="#80661a" stroke="#80661a" stroke-width="0.5" stroke-linejoin="miter"/><circle cx="350.36" cy="488.60" r="3.9" fill="#dc8438" stroke="#80661a" stroke-width="0.55"/><circle cx="350.36" cy="488.60" r="3.3" fill="none" stroke="#e83028" stroke-width="0.7" stroke-dasharray="1.8 1.2" opacity="0.8"/>
<text x="357.16" y="492.70" font-size="9.35" fill="#222" stroke="#222" stroke-width="0.2">5:34pm</text>
<polygon points="391.85,467.60 393.91,471.67 398.42,472.37 395.18,475.58 395.91,480.08 391.85,478.00 387.80,480.08 388.53,475.58 385.29,472.37 389.80,471.67" fill="#80661a" stroke="#80661a" stroke-width="0.5" stroke-linejoin="miter"/><circle cx="391.85" cy="474.70" r="3.9" fill="#b8b844" stroke="#80661a" stroke-width="0.55"/>
<text x="398.65" y="477.60" font-size="9.35" fill="#222" stroke="#222" stroke-width="0.2">6:35am</text>
<polygon points="426.86,481.50 428.92,485.57 433.43,486.27 430.19,489.48 430.92,493.98 426.86,491.90 422.81,493.98 423.54,489.48 420.30,486.27 424.81,485.57" fill="#80661a" stroke="#80661a" stroke-width="0.5" stroke-linejoin="miter"/><circle cx="426.86" cy="488.60" r="3.9" fill="#dc8438" stroke="#80661a" stroke-width="0.55"/><circle cx="426.86" cy="488.60" r="3.3" fill="none" stroke="#e83028" stroke-width="0.7" stroke-dasharray="1.8 1.2" opacity="0.8"/>
<text x="433.66" y="492.70" font-size="9.35" fill="#222" stroke="#222" stroke-width="0.2">5:34pm</text>
<polygon points="468.41,467.60 470.46,471.67 474.97,472.37 471.74,475.58 472.46,480.08 468.41,478.00 464.35,480.08 465.08,475.58 461.85,472.37 466.35,471.67" fill="#80661a" stroke="#80661a" stroke-width="0.5" stroke-linejoin="miter"/><circle cx="468.41" cy="474.70" r="3.9" fill="#b8b844" stroke="#80661a" stroke-width="0.55"/>
<text x="475.21" y="477.60" font-size="9.35" fill="#222" stroke="#222" stroke-width="0.2">6:36am</text>
<polygon points="503.36,481.50 505.42,485.57 509.93,486.27 506.69,489.48 507.42,493.98 503.36,491.90 499.31,493.98 500.04,489.48 496.80,486.27 501.31,485.57" fill="#80661a" stroke="#80661a" stroke-width="0.5" stroke-linejoin="miter"/><circle cx="503.36" cy="488.60" r="3.9" fill="#dc8438" stroke="#80661a" stroke-width="0.55"/><circle cx="503.36" cy="488.60" r="3.3" fill="none" stroke="#e83028" stroke-width="0.7" stroke-dasharray="1.8 1.2" opacity="0.8"/>
<text x="510.16" y="492.70" font-size="9.35" fill="#222" stroke="#222" stroke-width="0.2">5:34pm</text>
<polygon points="544.96,467.60 547.02,471.67 551.52,472.37 548.29,475.58 549.02,480.08 544.96,478.00 540.90,480.08 541.63,475.58 538.40,472.37 542.90,471.67" fill="#80661a" stroke="#80661a" stroke-width="0.5" stroke-linejoin="miter"/><circle cx="544.96" cy="474.70" r="3.9" fill="#b8b844" stroke="#80661a" stroke-width="0.55"/>
<text x="551.76" y="477.60" font-size="9.35" fill="#222" stroke="#222" stroke-width="0.2">6:37am</text>
<polygon points="579.86,481.50 581.92,485.57 586.43,486.27 583.19,489.48 583.92,493.98 579.86,491.90 575.81,493.98 576.54,489.48 573.30,486.27 577.81,485.57" fill="#80661a" stroke="#80661a" stroke-width="0.5" stroke-linejoin="miter"/><circle cx="579.86" cy="488.60" r="3.9" fill="#dc8438" stroke="#80661a" stroke-width="0.55"/><circle cx="579.86" cy="488.60" r="3.3" fill="none" stroke="#e83028" stroke-width="0.7" stroke-dasharray="1.8 1.2" opacity="0.8"/>
<text x="586.66" y="492.70" font-size="9.35" fill="#222" stroke="#222" stroke-width="0.2">5:34pm</text>
<polygon points="621.46,467.60 623.52,471.67 628.02,472.37 624.79,475.58 625.52,480.08 621.46,478.00 617.40,480.08 618.13,475.58 614.90,472.37 619.40,471.67" fill="#80661a" stroke="#80661a" stroke-width="0.5" stroke-linejoin="miter"/><circle cx="621.46" cy="474.70" r="3.9" fill="#b8b844" stroke="#80661a" stroke-width="0.55"/>
<text x="628.26" y="477.60" font-size="9.35" fill="#222" stroke="#222" stroke-width="0.2">6:37am</text>
<polygon points="656.31,481.50 658.37,485.57 662.87,486.27 659.64,489.48 660.37,493.98 656.31,491.90 652.25,493.98 652.98,489.48 649.75,486.27 654.25,485.57" fill="#80661a" stroke="#80661a" stroke-width="0.5" stroke-linejoin="miter"/><circle cx="656.31" cy="488.60" r="3.9" fill="#dc8438" stroke="#80661a" stroke-width="0.55"/><circle cx="656.31" cy="488.60" r="3.3" fill="none" stroke="#e83028" stroke-width="0.7" stroke-dasharray="1.8 1.2" opacity="0.8"/>
<text x="663.11" y="492.70" font-size="9.35" fill="#222" stroke="#222" stroke-width="0.2">5:33pm</text>
<circle cx="112.84" cy="502.10" r="4.9" fill="#ffffcc" stroke="#8a8a80" stroke-width="0.9"/>
<text x="119.64" y="506.20" font-size="9.35" fill="#222" stroke="#222" stroke-width="0.2">3:03pm</text>
<circle cx="74.11" cy="515.50" r="4.9" fill="#c8c8b4" stroke="#8a8a80" stroke-width="0.9"/>
<text x="80.91" y="518.90" font-size="9.35" fill="#222" stroke="#222" stroke-width="0.2">2:54am</text>
<circle cx="191.47" cy="502.10" r="4.9" fill="#ffffcc" stroke="#8a8a80" stroke-width="0.9"/>
<text x="198.27" y="506.20" font-size="9.35" fill="#222" stroke="#222" stroke-width="0.2">3:43pm</text>
<circle cx="153.59" cy="515.50" r="4.9" fill="#c8c8b4" stroke="#8a8a80" stroke-width="0.9"/>
<text x="160.39" y="518.90" font-size="9.35" fill="#222" stroke="#222" stroke-width="0.2">3:50am</text>
<circle cx="270.14" cy="502.10" r="4.9" fill="#ffffcc" stroke="#8a8a80" stroke-width="0.9"/>
<text x="276.94" y="506.20" font-size="9.35" fill="#222" stroke="#222" stroke-width="0.2">4:24pm</text>
<circle cx="233.01" cy="515.50" r="4.9" fill="#c8c8b4" stroke="#8a8a80" stroke-width="0.9"/>
<text x="239.81" y="518.90" font-size="9.35" fill="#222" stroke="#222" stroke-width="0.2">4:45am</text>
<circle cx="348.98" cy="502.10" r="4.9" fill="#ffffcc" stroke="#8a8a80" stroke-width="0.9"/>
<text x="355.78" y="506.20" font-size="9.35" fill="#222" stroke="#222" stroke-width="0.2">5:08pm</text>
<circle cx="312.43" cy="515.50" r="4.9" fill="#c8c8b4" stroke="#8a8a80" stroke-width="0.9"/>
<text x="319.23" y="518.90" font-size="9.35" fill="#222" stroke="#222" stroke-width="0.2">5:40am</text>
<circle cx="427.87" cy="502.10" r="4.9" fill="#ffffcc" stroke="#8a8a80" stroke-width="0.9"/>
<text x="434.67" y="506.20" font-size="9.35" fill="#222" stroke="#222" stroke-width="0.2">5:53pm</text>
<circle cx="391.80" cy="515.50" r="4.9" fill="#c8c8b4" stroke="#8a8a80" stroke-width="0.9"/>
<text x="398.60" y="518.90" font-size="9.35" fill="#222" stroke="#222" stroke-width="0.2">6:34am</text>
<circle cx="506.87" cy="502.10" r="4.9" fill="#ffffcc" stroke="#8a8a80" stroke-width="0.9"/>
<text x="513.67" y="506.20" font-size="9.35" fill="#222" stroke="#222" stroke-width="0.2">6:40pm</text>
<circle cx="471.12" cy="515.50" r="4.9" fill="#c8c8b4" stroke="#8a8a80" stroke-width="0.9"/>
<text x="477.92" y="518.90" font-size="9.35" fill="#222" stroke="#222" stroke-width="0.2">7:27am</text>
<circle cx="585.97" cy="502.10" r="4.9" fill="#ffffcc" stroke="#8a8a80" stroke-width="0.9"/>
<text x="592.77" y="506.20" font-size="9.35" fill="#222" stroke="#222" stroke-width="0.2">7:29pm</text>
<circle cx="550.27" cy="515.50" r="4.9" fill="#c8c8b4" stroke="#8a8a80" stroke-width="0.9"/>
<text x="557.07" y="518.90" font-size="9.35" fill="#222" stroke="#222" stroke-width="0.2">8:17am</text>
<circle cx="665.08" cy="502.10" r="4.9" fill="#ffffcc" stroke="#8a8a80" stroke-width="0.9"/>
<text x="671.88" y="506.20" font-size="9.35" fill="#222" stroke="#222" stroke-width="0.2">8:18pm</text>
<circle cx="629.32" cy="515.50" r="4.9" fill="#c8c8b4" stroke="#8a8a80" stroke-width="0.9"/>
<text x="636.12" y="518.90" font-size="9.35" fill="#222" stroke="#222" stroke-width="0.2">9:05am</text>
<text x="392.2" y="532" font-size="9.3" text-anchor="middle" fill="#333">Full Moon | 8:15am</text>
</svg></body></html>
